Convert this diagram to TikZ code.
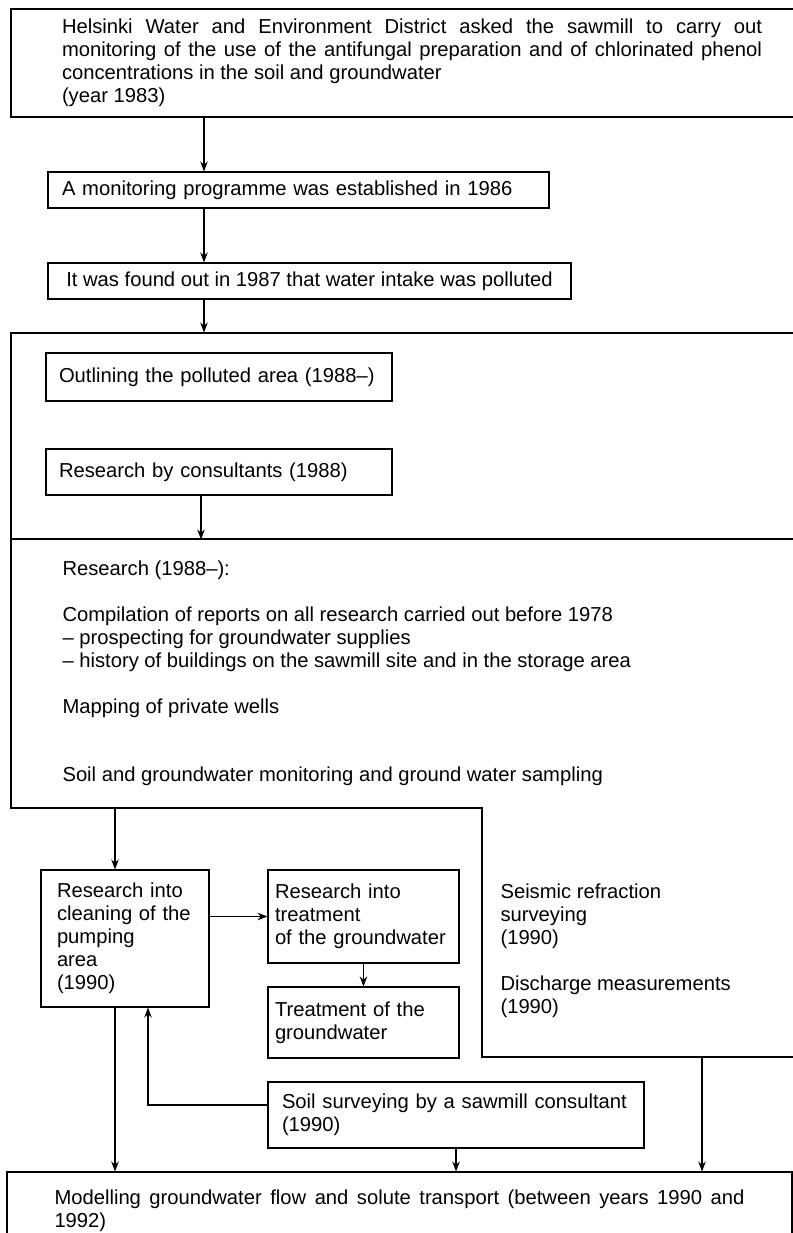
\documentclass[tikz,border=0pt]{standalone}
\usepackage{fontspec}
\setmainfont{Liberation Sans}
\usetikzlibrary{positioning,arrows.meta}

\begin{document}
\begin{tikzpicture}[>={Stealth[length=2mm,width=1.5mm]}, line width=0.6pt,
  every node/.style={font=\fontsize{11.5}{13.1}\selectfont},
  box/.style={draw, inner sep=0pt, align=left},
  plain/.style={inner sep=0pt, align=left}]
  \useasboundingbox (0,0) rectangle (15.86,-24.66);

  %% --- request and first findings ---
  \node[box, align=justify, text width=14cm, minimum width=16.04cm,
        minimum height=2.16cm] (request) at (8.24,-1.26)
    {Helsinki Water and Environment District asked the sawmill to carry out\linebreak
     monitoring of the use of the antifungal preparation and of chlorinated phenol\linebreak
     concentrations in the soil and groundwater\\(year 1983)};
  \node[box, text width=9.46cm, minimum width=10.02cm, minimum height=0.72cm]
    (monitor) at (5.97,-3.80) {A monitoring programme was established in 1986};
  \node[box, minimum width=10.46cm, minimum height=0.72cm]
    (found) at (6.19,-5.62) {It was found out in 1987 that water intake was polluted};

  %% --- first stage ---
  \node[box, minimum width=16.04cm, minimum height=4.12cm] (stage) at (8.24,-8.72) {};
  \node[box, text width=6.40cm, minimum width=6.92cm, minimum height=0.96cm]
    (outline) at (4.38,-7.54) {Outlining the polluted area (1988--)};
  \node[box, text width=6.40cm, minimum width=6.92cm, minimum height=0.92cm]
    (consult) at (4.38,-9.44) {Research by consultants (1988)};

  %% --- research area (stepped outline) ---
  \coordinate (res_nw)   at (0.22,-10.78);
  \coordinate (res_ne)   at (16.26,-10.78);
  \coordinate (res_se)   at (16.26,-21.14);
  \coordinate (res_step) at (9.64,-21.14);
  \coordinate (res_knee) at (9.64,-16.16);
  \coordinate (res_sw)   at (0.22,-16.16);
  \draw (res_nw) -- (res_ne) -- (res_se) -- (res_step) -- (res_knee) -- (res_sw) -- cycle;
  \coordinate (seis_out) at (14.04,-21.14);

  \node[plain, anchor=west] (research) at (1.24,-13.47)
    {Research (1988--):\\[13pt]
     Compilation of reports on all research carried out before 1978\\
     -- prospecting for groundwater supplies\\
     -- history of buildings on the sawmill site and in the storage area\\[13pt]
     Mapping of private wells\\[26pt]
     Soil and groundwater monitoring and ground water sampling};
  \node[plain, anchor=west] (seismic) at (10.0,-19.02)
    {Seismic refraction\\surveying\\(1990)\\[13pt]Discharge measurements\\(1990)};

  %% --- cleaning and treatment ---
  \node[box, text width=2.72cm, minimum width=3.36cm, minimum height=2.74cm]
    (clean) at (2.50,-18.77) {Research into\\cleaning of the\\pumping\\area\\(1990)};
  \node[box, text width=3.54cm, minimum width=3.82cm, minimum height=1.86cm]
    (tres) at (7.27,-18.33) {Research into\\treatment\\of the groundwater};
  \node[box, text width=3.54cm, minimum width=3.82cm, minimum height=1.42cm]
    (treat) at (7.27,-20.45) {Treatment of the\\groundwater};
  \node[box, text width=6.96cm, minimum width=7.52cm, minimum height=1.32cm]
    (soil) at (9.12,-22.30) {Soil surveying by a sawmill consultant\\(1990)};

  %% --- modelling ---
  \node[box, align=justify, text width=13.8cm, minimum width=15.70cm,
        minimum height=1.56cm] (model) at (7.99,-24.22)
    {Modelling groundwater flow and solute transport (between years 1990 and\linebreak 1992)};

  %% --- connectors ---
  \coordinate (colA) at (4.08,0);
  \coordinate (colB) at (4.02,0);
  \coordinate (colC) at (2.30,0);
  \coordinate (colD) at (2.96,0);
  \draw[->] (request.south -| colA) -- (monitor.north -| colA);
  \draw[->] (monitor.south -| colA) -- (found.north -| colA);
  \draw[->] (found.south -| colA) -- (stage.north -| colA);
  \draw[->] (consult.south -| colB) -- (stage.south -| colB);
  \draw[->] (res_sw -| colC) -- (clean.north -| colC);
  \draw[->] (clean.east |- tres.west) -- (tres.west);
  \draw[->] (tres.south) -- (treat.north);
  \draw[->] (clean.south -| colC) -- (model.north -| colC);
  \draw[->] ([yshift=0.2cm]soil.west) -| (colD |- clean.south);
  \draw[->] (soil.south) -- (soil.south |- model.north);
  \draw[->] (seis_out) -- (seis_out |- model.north);
\end{tikzpicture}
\end{document}
